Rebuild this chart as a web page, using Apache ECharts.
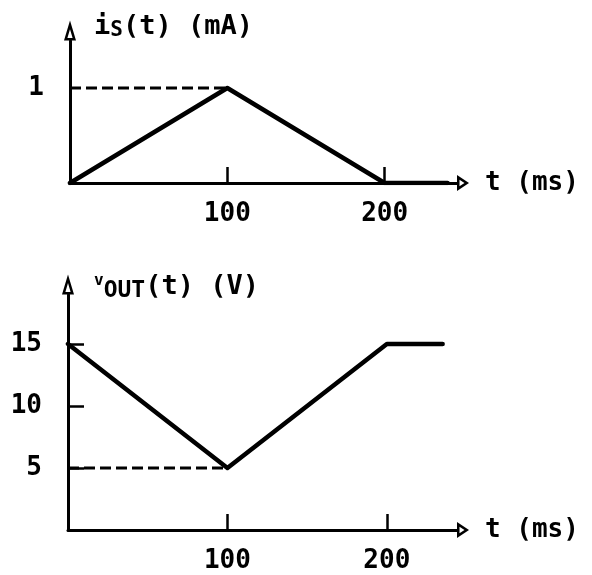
<!DOCTYPE html>
<html>
<head>
<meta charset="utf-8">
<script src="https://cdn.jsdelivr.net/npm/echarts@6/dist/echarts.min.js"></script>
<style>
  html, body { margin: 0; padding: 0; background: #fff; }
  #chart { width: 592px; height: 575px; }
</style>
</head>
<body>
<div id="chart"></div>
<script>
// Source current i_S(t), mA: ramps up to 1 mA at 100 ms, back to 0 at 200 ms
const currentTime = [0, 100, 200, 240];
const currentValue = [0, 1, 0, 0];

// Output voltage v_OUT(t), V: falls from 15 V to 5 V, recovers to 15 V
const voutTime = [0, 100, 200, 235];
const voutValue = [15, 5, 15, 15];

// Dashed guide levels reaching from the axis to t = 100 ms
const guideTime = [0, 100];
const currentGuide = 1;
const voutGuide = 5;

// Tick labels
const timeTicks = [100, 200];
const currentTicks = [1];
const voutTicks = [5, 10, 15];

const FONT = 'DejaVu Sans Mono';
const INK = '#000';

// Hollow arrowheads, drawn pointing "up" (ECharts rotates them along the axis).
// Outer outline clockwise, inner cut-out counter-clockwise so the middle stays empty.
const ARROW_Y = 'path://M6 0 L12 20 L0 20 Z M6 8.7 L3.4 17.5 L8.6 17.5 Z';
const ARROW_X = 'path://M8 0 L16 12 L0 12 Z M8 4.5 L4.7 9.5 L11.3 9.5 Z';

const pairs = (xs, ys) => xs.map((x, i) => [x, ys[i]]);

function xAxisCfg(gridIndex, max) {
  return {
    type: 'value', gridIndex, min: 0, max,
    name: 't (ms)', nameLocation: 'end', nameGap: 28,
    nameTextStyle: { fontFamily: FONT, fontWeight: 'bold', fontSize: 26, color: INK, padding: [12, 0, 0, 0] },
    axisLine: { show: true, lineStyle: { color: INK, width: 3 },
      symbol: ['none', ARROW_X], symbolSize: [16, 12], symbolOffset: [0, 6] },
    axisTick: { show: true, inside: true, length: 16, lineStyle: { color: INK, width: 2.5 },
      customValues: timeTicks },
    axisLabel: { show: true, margin: 18, fontFamily: FONT, fontWeight: 'bold', fontSize: 26, color: INK,
      customValues: timeTicks },
    splitLine: { show: false }
  };
}

function yAxisCfg(gridIndex, max, ticks, tickLen, nameRich, nameText, gap, padLeft) {
  return {
    type: 'value', gridIndex, min: 0, max,
    name: nameText, nameLocation: 'end', nameGap: gap,
    nameTextStyle: { align: 'left', verticalAlign: 'middle', padding: [0, 0, 0, padLeft], rich: nameRich },
    axisLine: { show: true, lineStyle: { color: INK, width: 3 },
      symbol: ['none', ARROW_Y], symbolSize: [12, 20], symbolOffset: [0, 10] },
    axisTick: { show: tickLen > 0, inside: true, length: tickLen, lineStyle: { color: INK, width: 2.5 },
      customValues: ticks },
    axisLabel: { show: true, margin: 26, fontFamily: FONT, fontWeight: 'bold', fontSize: 26, color: INK,
      customValues: ticks },
    splitLine: { show: false }
  };
}

const mainText = { fontFamily: FONT, fontWeight: 'bold', fontSize: 27, color: INK, lineHeight: 30, verticalAlign: 'middle' };
const subText = { fontFamily: FONT, fontWeight: 'bold', fontSize: 21, color: INK, lineHeight: 21, verticalAlign: 'bottom' };
const supText = { fontFamily: FONT, fontWeight: 'bold', fontSize: 16, color: INK, lineHeight: 16, verticalAlign: 'top' };

const currentName = '{m|i}{s|S}{m|(t) (mA)}';
const voutName = '{v|v}{s|OUT}{m|(t) (V)}';

function lineSeries(xIdx, data, dashed) {
  return {
    type: 'line', xAxisIndex: xIdx, yAxisIndex: xIdx, data,
    symbol: 'none', silent: true, z: dashed ? 3 : 4,
    lineStyle: dashed
      ? { color: INK, width: 3, type: [11, 5] }
      : { color: INK, width: 4.5, join: 'round', cap: 'round' }
  };
}

const chart = echarts.init(document.getElementById('chart'), null, { renderer: 'canvas' });
chart.setOption({
  animation: false,
  backgroundColor: '#fff',
  grid: [
    { left: 70, top: 40.5, width: 387, height: 142.5, containLabel: false, outerBoundsMode: 'none' },
    { left: 68, top: 294.4, width: 389, height: 235.6, containLabel: false, outerBoundsMode: 'none' }
  ],
  xAxis: [xAxisCfg(0, 246), xAxisCfg(1, 244)],
  yAxis: [
    yAxisCfg(0, 1.5, currentTicks, 0, { m: mainText, s: subText }, currentName, 14, 24),
    yAxisCfg(1, 19, voutTicks, 16, { m: mainText, s: Object.assign({}, subText, { fontSize: 23, lineHeight: 22 }), v: supText }, voutName, 7, 26)
  ],
  series: [
    lineSeries(0, pairs(guideTime, guideTime.map(() => currentGuide)), true),
    lineSeries(0, pairs(currentTime, currentValue), false),
    lineSeries(1, pairs(guideTime, guideTime.map(() => voutGuide)), true),
    lineSeries(1, pairs(voutTime, voutValue), false)
  ]
});
</script>
</body>
</html>
